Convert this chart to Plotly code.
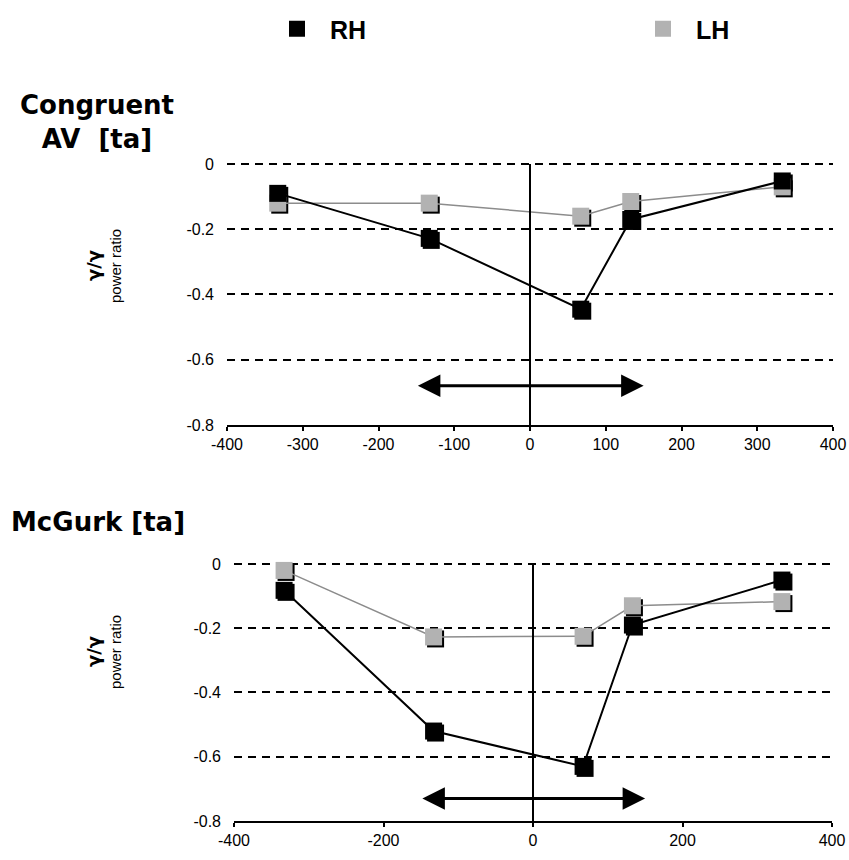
import plotly.graph_objects as go

# Time offsets (ms) of the analysis windows
times = [-333, -133, 67, 133, 333]

# Gamma power ratio, congruent audiovisual [ta]
cong_rh = [-0.09, -0.228, -0.445, -0.17, -0.052]
cong_lh = [-0.12, -0.12, -0.16, -0.115, -0.07]

# Gamma power ratio, McGurk [ta]
mcg_rh = [-0.082, -0.52, -0.63, -0.19, -0.05]
mcg_lh = [-0.02, -0.227, -0.225, -0.13, -0.117]

series_names = ["RH", "LH"]

y_ticks = [0, -0.2, -0.4, -0.6, -0.8]
y_tick_labels = ["0", "-0.2", "-0.4", "-0.6", "-0.8"]
x_ticks_top = [-400, -300, -200, -100, 0, 100, 200, 300, 400]
x_tick_labels_top = ["-400", "-300", "-200", "-100", "0", "100", "200", "300", "400"]
x_ticks_bottom = [-400, -200, 0, 200, 400]
x_tick_labels_bottom = ["-400", "-200", "0", "200", "400"]

# Stimulus interval marked by the double arrow (ms) and its height in each panel
arrow_span = [-150, 150]
arrow_level = [-0.68, -0.73]

W, H = 849, 860
BLACK = "#000000"
GREY_MARK = "#b2b2b2"
GREY_LINE = "#8c8c8c"
MSIZE = 17
SHADOW = 2  # px offset of the marker drop shadow
Y_TOP = 0.01  # a little headroom so the dashed line at 0 is drawn

# plot areas in pixels: (left, right, y=0 pixel, y=-0.8 pixel)
panels = [(227, 833, 164, 425), (234, 832, 564, 821)]


def dom_x(l, r, d=0):
    return [(l + d) / W, (r + d) / W]


def dom_y(t, b, d=0):
    top = t - Y_TOP * (b - t) / 0.8
    return [1 - (b + d) / H, 1 - (top + d) / H]


fig = go.Figure()

panel_data = [(cong_rh, cong_lh), (mcg_rh, mcg_lh)]

# shadow subplots (1, 2) are drawn first, main subplots (3, 4) on top
for i, (rh, lh) in enumerate(panel_data):
    sx = "x" if i == 0 else "x2"
    sy = "y" if i == 0 else "y2"
    for vals in (lh, rh):
        fig.add_trace(go.Scatter(
            x=times, y=vals, mode="markers", xaxis=sx, yaxis=sy,
            marker=dict(symbol="square", size=MSIZE, color=BLACK),
            showlegend=False, cliponaxis=False, hoverinfo="skip"))

for i, (rh, lh) in enumerate(panel_data):
    mx = "x3" if i == 0 else "x4"
    my = "y3" if i == 0 else "y4"
    fig.add_trace(go.Scatter(
        x=times, y=lh, mode="lines", xaxis=mx, yaxis=my,
        line=dict(color=GREY_LINE, width=1.5), showlegend=False, cliponaxis=False))
    fig.add_trace(go.Scatter(
        x=times, y=lh, mode="markers", xaxis=mx, yaxis=my, name=series_names[1],
        marker=dict(symbol="square", size=MSIZE, color=GREY_MARK),
        showlegend=(i == 0), legend="legend2", cliponaxis=False))
    fig.add_trace(go.Scatter(
        x=times, y=rh, mode="lines", xaxis=mx, yaxis=my,
        line=dict(color=BLACK, width=2), showlegend=False, cliponaxis=False))
    fig.add_trace(go.Scatter(
        x=times, y=rh, mode="markers", xaxis=mx, yaxis=my, name=series_names[0],
        marker=dict(symbol="square", size=MSIZE, color=BLACK),
        showlegend=(i == 0), legend="legend", cliponaxis=False))

hidden = dict(range=[-400, 400], visible=False, fixedrange=True)
hidden_y = dict(range=[-0.8, Y_TOP], visible=False, fixedrange=True)

layout_axes = {}
for i, (l, r, t, b) in enumerate(panels):
    s = "" if i == 0 else "2"
    layout_axes["xaxis" + s] = dict(hidden, domain=dom_x(l, r, SHADOW), anchor="y" + s)
    layout_axes["yaxis" + s] = dict(hidden_y, domain=dom_y(t, b, SHADOW), anchor="x" + s)

tick_font = dict(family="Liberation Sans, Arial", size=16, color=BLACK)
for i, (l, r, t, b) in enumerate(panels):
    n = str(i + 3)
    xt = x_ticks_top if i == 0 else x_ticks_bottom
    xl = x_tick_labels_top if i == 0 else x_tick_labels_bottom
    layout_axes["xaxis" + n] = dict(
        domain=dom_x(l, r), anchor="y" + n, range=[-400, 400],
        tickmode="array", tickvals=xt, ticktext=xl,
        ticks="outside", ticklen=4, tickwidth=1.5, tickcolor=BLACK,
        showline=True, linecolor=BLACK, linewidth=1.5,
        showgrid=False, zeroline=False,
        tickfont=tick_font, fixedrange=True)
    layout_axes["yaxis" + n] = dict(
        domain=dom_y(t, b), anchor="x" + n, range=[-0.8, Y_TOP],
        tickmode="array", tickvals=y_ticks, ticktext=y_tick_labels,
        showline=False, ticks="", ticklabelstandoff=12,
        showgrid=True, gridcolor=BLACK, gridwidth=1.5, griddash="8px,6px",
        zeroline=False, tickfont=tick_font, fixedrange=True)

fig.update_layout(**layout_axes)

shapes = []
# vertical reference line at t = 0, from 0 down to the axis
for i in range(2):
    n = str(i + 3)
    shapes.append(dict(type="line", xref="x" + n, yref="y" + n,
                       x0=0, x1=0, y0=0, y1=-0.8,
                       line=dict(color=BLACK, width=2), layer="above"))

annotations = []
# double-headed arrows marking the stimulus interval
for i in range(2):
    n = str(i + 3)
    annotations.append(dict(
        x=arrow_span[1], y=arrow_level[i], ax=arrow_span[0], ay=arrow_level[i],
        xref="x" + n, yref="y" + n, axref="x" + n, ayref="y" + n,
        text="", showarrow=True, arrowside="end+start", arrowhead=2,
        startarrowhead=2, arrowsize=1.5, startarrowsize=1.5,
        arrowwidth=3, arrowcolor=BLACK))

title_font = dict(family="DejaVu Sans", size=26, color=BLACK, weight="bold")
annotations.append(dict(
    x=97 / W, y=1 - 122 / H, xref="paper", yref="paper",
    text="Congruent<br>AV  [ta]", showarrow=False, align="center",
    xanchor="center", yanchor="middle", font=title_font))
annotations.append(dict(
    x=9 / W, y=1 - 522 / H, xref="paper", yref="paper",
    text="McGurk [ta]", showarrow=False, align="left",
    xanchor="left", yanchor="middle", font=title_font))

# rotated y-axis titles
for yc in (266, 652):
    annotations.append(dict(
        x=93 / W, y=1 - yc / H, xref="paper", yref="paper", text="γ/γ",
        textangle=-90, showarrow=False, xanchor="center", yanchor="middle",
        font=dict(family="DejaVu Sans", size=18, color=BLACK, weight="bold")))
    annotations.append(dict(
        x=115 / W, y=1 - yc / H, xref="paper", yref="paper", text="power ratio",
        textangle=-90, showarrow=False, xanchor="center", yanchor="middle",
        font=dict(family="Liberation Sans, Arial", size=15, color=BLACK)))

legend_style = dict(
    orientation="h", yanchor="top", xanchor="left", y=1 - 6 / H,
    font=dict(family="Liberation Sans, Arial", size=25, color=BLACK, weight="bold"),
    bgcolor="rgba(0,0,0,0)", itemclick=False, itemdoubleclick=False,
    itemwidth=56)

fig.update_layout(
    width=W, height=H,
    margin=dict(l=0, r=0, t=0, b=0, autoexpand=False),
    paper_bgcolor="white", plot_bgcolor="rgba(0,0,0,0)",
    annotations=annotations, shapes=shapes,
    showlegend=True,
    legend=dict(legend_style, x=264 / W),
    legend2=dict(legend_style, x=630 / W),
)

fig.write_html("out.html")
